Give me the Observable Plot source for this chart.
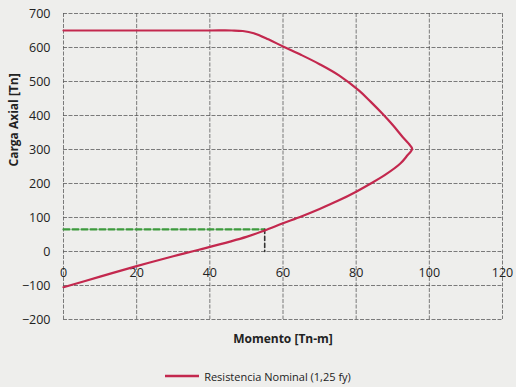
<!DOCTYPE html>
<html>
<head>
<meta charset="utf-8">
<script src="https://cdn.jsdelivr.net/npm/d3@7"></script>
<script src="https://cdn.jsdelivr.net/npm/@observablehq/plot@0.6"></script>
<style>
  html, body { margin: 0; padding: 0; background: #eeeeec; }
  body { width: 516px; height: 387px; overflow: hidden; font-family: "Open Sans", sans-serif; }
  #legend { display: flex; justify-content: center; align-items: center; gap: 5px; font-size: 11px; color: #222; height: 24px; margin-top: 4px; }
</style>
</head>
<body>
<div id="chart"></div>
<div id="legend"></div>
<script>
// Interaction diagram: Resistencia Nominal (1,25 fy)
const momento = [0, 20, 40, 46, 49, 52, 56, 60, 65, 70, 75.3, 80.8, 84, 87.2, 90, 92.7, 94.3, 95.3, 93.8, 92, 88, 84, 80, 75, 70, 65, 60, 55, 50, 37, 30, 20, 10, 0];
const carga   = [650, 650, 650, 650, 648.5, 642, 624, 603, 578, 551, 518, 473, 440, 405, 372, 337, 318, 302, 280, 258, 226, 200, 176, 149, 125, 103, 83, 62, 43, 5, -14, -43, -74, -105];
const momentoUltimo = 55;
const cargaUltima = 65;
const xTicks = [0, 20, 40, 60, 80, 100, 120];
const yTicks = [-200, -100, 0, 100, 200, 300, 400, 500, 600, 700];
const seriesName = "Resistencia Nominal (1,25 fy)";

const curve = momento.map((m, i) => ({m, p: carga[i]}));
const demandH = [{m: 0, p: cargaUltima}, {m: momentoUltimo, p: cargaUltima}];
const demandV = [{m: momentoUltimo, p: cargaUltima}, {m: momentoUltimo, p: 0}];
const red = "#c3284e";
const green = "#3d9a3d";

const chart = Plot.plot({
  width: 516,
  height: 360,
  marginLeft: 63,
  marginRight: 14,
  marginTop: 13,
  marginBottom: 41,
  style: {background: "transparent", fontFamily: "Open Sans, sans-serif", fontSize: "12px", color: "#222"},
  x: {domain: [0, 120], axis: null},
  y: {domain: [-200, 700], axis: null},
  marks: [
    Plot.gridX(xTicks, {stroke: "#555", strokeOpacity: 0.85, strokeWidth: 0.9, strokeDasharray: "4 1.5"}),
    Plot.gridY(yTicks, {stroke: "#555", strokeOpacity: 0.85, strokeWidth: 0.9, strokeDasharray: "4 1.5"}),
    Plot.axisY(yTicks, {tickSize: 0, tickPadding: 13, fontSize: 12.5, label: null}),
    Plot.text(xTicks, {x: d => d, y: () => 0, dy: 21, fontSize: 12.5, fill: "#222"}),
    Plot.line(demandH, {x: "m", y: "p", stroke: green, strokeWidth: 2.2, strokeDasharray: "6 3"}),
    Plot.line(demandV, {x: "m", y: "p", stroke: "#333", strokeWidth: 1.6, strokeDasharray: "4 3"}),
    Plot.line(curve, {x: "m", y: "p", stroke: red, strokeWidth: 2.2, curve: "catmull-rom"}),
    Plot.text(["Carga Axial [Tn]"], {frameAnchor: "left", rotate: -90, dx: -49, fontWeight: "bold", fontSize: 12, fill: "#222"}),
    Plot.text(["Momento [Tn-m]"], {frameAnchor: "bottom", dy: 23, fontWeight: "bold", fontSize: 12, fill: "#222"})
  ]
});
document.getElementById("chart").appendChild(chart);

const legend = document.getElementById("legend");
legend.innerHTML = `<svg width="34" height="6"><line x1="0" y1="3" x2="34" y2="3" stroke="${red}" stroke-width="2.5"/></svg><span>${seriesName}</span>`;
</script>
</body>
</html>
